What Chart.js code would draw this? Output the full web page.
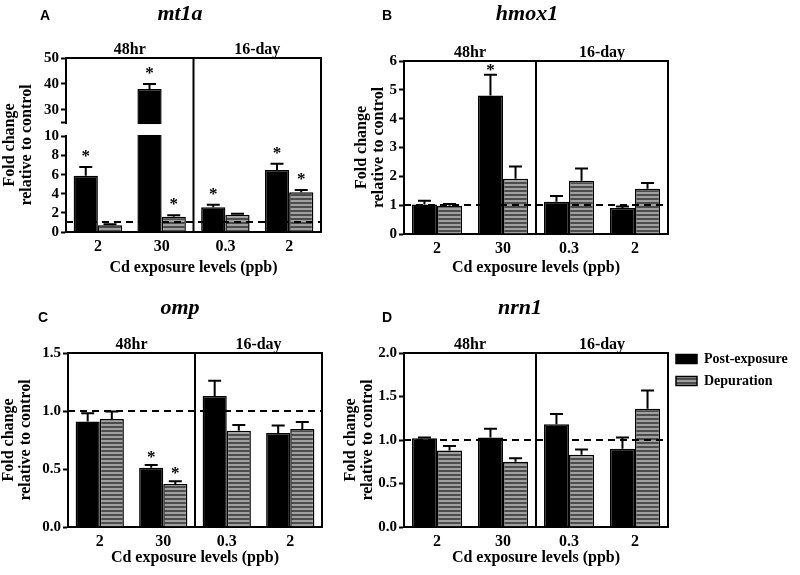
<!DOCTYPE html>
<html>
<head>
<meta charset="utf-8">
<script src="https://cdn.jsdelivr.net/npm/chart.js@4.4.1/dist/chart.umd.min.js"></script>
<style>
  html, body { margin: 0; padding: 0; overflow: hidden; background: #fff; }
  body { width: 800px; height: 575px; position: relative; }
  canvas { position: absolute; }
</style>
</head>
<body>
<canvas id="cA" width="400" height="280" style="left:0;top:0"></canvas>
<canvas id="cB" width="460" height="280" style="left:340px;top:0"></canvas>
<canvas id="cC" width="400" height="295" style="left:0;top:280px"></canvas>
<canvas id="cD" width="460" height="295" style="left:340px;top:280px"></canvas>
<script>
// ---- data ----
var categories = ['2', '30', '0.3', '2'];
var groups = ['48hr', '16-day'];
var seriesNames = ['Post-exposure', 'Depuration'];
var controlLevel = 1;

// A: mt1a (broken axis 10 -> 25)
var mt1aPost = [5.9, 38.0, 2.6, 6.5];
var mt1aPostErr = [0.9, 1.9, 0.25, 0.65];
var mt1aDep = [0.7, 1.6, 1.8, 4.15];
var mt1aDepErr = [0.1, 0.15, 0.1, 0.25];
var mt1aPostStar = [1, 1, 1, 1];
var mt1aDepStar = [0, 1, 0, 1];
var mt1aTicks = [0, 2, 4, 6, 8, 10, 25, 30, 40, 50];
var mt1aBreak = [10, 25];

// B: hmox1
var hmox1Post = [1.02, 4.8, 1.12, 0.9];
var hmox1PostErr = [0.13, 0.72, 0.2, 0.05];
var hmox1Dep = [0.98, 1.92, 1.85, 1.57];
var hmox1DepErr = [0.06, 0.42, 0.42, 0.2];
var hmox1PostStar = [0, 1, 0, 0];
var hmox1DepStar = [0, 0, 0, 0];

// C: omp
var ompPost = [0.91, 0.51, 1.13, 0.81];
var ompPostErr = [0.07, 0.025, 0.13, 0.065];
var ompDep = [0.93, 0.37, 0.83, 0.845];
var ompDepErr = [0.065, 0.025, 0.05, 0.06];
var ompPostStar = [0, 1, 0, 0];
var ompDepStar = [0, 1, 0, 0];

// D: nrn1
var nrn1Post = [1.02, 1.03, 1.18, 0.9];
var nrn1PostErr = [0.01, 0.1, 0.12, 0.13];
var nrn1Dep = [0.88, 0.75, 0.83, 1.36];
var nrn1DepErr = [0.05, 0.04, 0.06, 0.21];
var nrn1PostStar = [0, 0, 0, 0];
var nrn1DepStar = [0, 0, 0, 0];

Chart.defaults.font.family = '"Liberation Serif", "Times New Roman", serif';
Chart.defaults.color = '#000';

// linear scale with a gap between gap.low and gap.high
class BrokenScale extends Chart.LinearScale {
    static id = 'broken';
    static defaults = Chart.LinearScale.defaults;
    _frac(v) {
        var g = this.options.gap;
        if (v <= g.low) return (v - this.min) / (g.low - this.min) * g.lowFrac;
        if (v >= g.high) return g.highFrac + (v - g.high) / (this.max - g.high) * (1 - g.highFrac);
        return g.lowFrac + (v - g.low) / (g.high - g.low) * (g.highFrac - g.lowFrac);
    }
    getPixelForValue(v) {
        if (v === null) return NaN;
        return this.getPixelForDecimal(this._frac(v));
    }
    getValueForPixel(p) {
        var g = this.options.gap, d = this.getDecimalForPixel(p);
        if (d <= g.lowFrac) return this.min + d / g.lowFrac * (g.low - this.min);
        if (d >= g.highFrac) return g.high + (d - g.highFrac) / (1 - g.highFrac) * (this.max - g.high);
        return g.low + (d - g.lowFrac) / (g.highFrac - g.lowFrac) * (g.high - g.low);
    }
}
Chart.register(BrokenScale);

function stripes(ctx) {
    var c = document.createElement('canvas');
    c.width = 4; c.height = 4;
    var g = c.getContext('2d');
    g.fillStyle = '#a0a0a0'; g.fillRect(0, 0, 4, 2);
    g.fillStyle = '#4c4c4c'; g.fillRect(0, 2, 4, 2);
    return ctx.createPattern(c, 'repeat');
}

// frame, divider, dashed control line, error bars, asterisks, labels
var panelDecor = {
    id: 'panelDecor',
    afterDraw: function(chart, args, opts) {
        var ctx = chart.ctx, x = chart.scales.x, y = chart.scales.y;
        // plot box taken from the scales themselves
        var L = x.left, R = x.right, T = y.top, B = y.bottom;
        ctx.save();
        var gap = y.options.gap;
        if (gap) {
            var y1 = y.getPixelForValue(gap.high), y2 = y.getPixelForValue(gap.low);
            ctx.fillStyle = '#fff';
            ctx.fillRect(L - 3, y1 + 1.5, R - L + 3, y2 - y1 - 3);
        }
        ctx.strokeStyle = '#000';
        ctx.lineWidth = 2;
        ctx.setLineDash([7, 5]);
        var yc = Math.round(y.getPixelForValue(controlLevel));
        ctx.beginPath(); ctx.moveTo(L, yc); ctx.lineTo(R, yc); ctx.stroke();
        ctx.setLineDash([]);

        ctx.fillStyle = '#000';
        chart.data.datasets.forEach(function(ds, i) {
            chart.getDatasetMeta(i).data.forEach(function(bar, j) {
                var top = y.getPixelForValue(ds.data[j] + ds.errors[j]);
                ctx.beginPath();
                ctx.moveTo(bar.x, bar.y); ctx.lineTo(bar.x, top);
                ctx.moveTo(bar.x - 6.5, top); ctx.lineTo(bar.x + 6.5, top);
                ctx.stroke();
                if (ds.stars[j]) {
                    ctx.font = 'bold 17px "Liberation Serif"';
                    ctx.textAlign = 'center';
                    ctx.textBaseline = 'alphabetic';
                    ctx.fillText('*', bar.x, top - opts.starGap + 8);
                }
            });
        });

        var xd = x.getPixelForValue(1.5);
        ctx.strokeStyle = '#000';
        ctx.lineWidth = 2;
        ctx.beginPath();
        ctx.moveTo(L - 1, T); ctx.lineTo(R + 1, T);
        ctx.moveTo(R, T); ctx.lineTo(R, B + 1);
        ctx.moveTo(xd, T); ctx.lineTo(xd, B);
        ctx.stroke();

        ctx.textAlign = 'center';
        ctx.textBaseline = 'middle';
        ctx.font = 'bold 16px "Liberation Serif"';
        groups.forEach(function(g, k) {
            ctx.fillText(g, x.getPixelForValue(k * 2 + 0.5), T - 8);
        });
        ctx.font = 'italic bold 22px "Liberation Serif"';
        ctx.fillText(opts.gene, opts.geneX, opts.geneY);
        ctx.font = 'bold 14px "Liberation Sans"';
        ctx.fillText(opts.letter, opts.letterX, opts.letterY);
        ctx.restore();
    }
};

// lift the legend up to the top edge of the frame
var legendNudge = {
    id: 'legendNudge',
    afterLayout: function(chart, args, opts) {
        var lg = chart.legend;
        if (!lg || !lg.options.display) return;
        lg.top += opts.dy; lg.bottom += opts.dy;
    }
};

function makePanel(id, p) {
    var ctx = document.getElementById(id).getContext('2d');
    var yScale = {
        type: p.yType || 'linear',
        min: p.yMin, max: p.yMax,
        grid: { display: true, drawOnChartArea: false, drawTicks: true, tickLength: 5, tickWidth: 2, tickColor: '#000' },
        border: { display: true, color: '#000', width: 2 },
        ticks: { padding: 2, autoSkip: false, stepSize: p.step, font: { size: 15, weight: 'bold' }, callback: p.tickFmt },
        title: { display: true, text: ['Fold change', 'relative to control'], font: { size: 16, weight: 'bold', lineHeight: 1.05 }, padding: { top: p.ytPad, bottom: 0 } },
        afterFit: function(s) { s.width = p.yW; }
    };
    if (p.gap) {
        yScale.gap = p.gap;
        yScale.afterBuildTicks = function(s) { s.ticks = p.ticks.map(function(v) { return { value: v }; }); };
    }
    return new Chart(ctx, {
        type: 'bar',
        data: {
            labels: categories,
            datasets: [
                { label: seriesNames[0], data: p.post, errors: p.postErr, stars: p.postStar,
                  backgroundColor: '#000', borderColor: '#000', borderWidth: 1.5 },
                { label: seriesNames[1], data: p.dep, errors: p.depErr, stars: p.depStar,
                  backgroundColor: stripes(ctx), borderColor: '#000', borderWidth: 1.5 }
            ]
        },
        options: {
            responsive: false,
            animation: false,
            layout: { padding: { top: p.padTop, right: p.padRight, bottom: 0, left: 0 } },
            datasets: { bar: { categoryPercentage: 0.76, barPercentage: 1 } },
            scales: {
                x: {
                    grid: { display: false, drawTicks: false, tickLength: 0 },
                    border: { display: true, color: '#000', width: 2 },
                    ticks: { padding: 5, font: { size: 16, weight: 'bold' } },
                    title: { display: true, text: 'Cd exposure levels (ppb)', font: { size: 16, weight: 'bold' }, padding: { top: 0, bottom: p.xtPad } },
                    afterFit: function(s) { s.height = p.xH; }
                },
                y: yScale
            },
            plugins: {
                legend: p.legend ? {
                    display: true, position: 'right', align: 'start', fullSize: false, maxWidth: 200,
                    labels: { boxWidth: 21, boxHeight: 9, padding: 8, font: { size: 14, weight: 'bold' } }
                } : { display: false },
                tooltip: { enabled: false },
                legendNudge: { dy: -9 },
                panelDecor: { letter: p.letter, letterX: p.letterX, letterY: p.letterY, gene: p.gene, geneX: p.geneX, geneY: p.geneY, starGap: p.starGap }
            }
        },
        plugins: [panelDecor, legendNudge]
    });
}

var oneDecimal = function(v) { return v.toFixed(1); };

makePanel('cA', {
    post: mt1aPost, postErr: mt1aPostErr, dep: mt1aDep, depErr: mt1aDepErr, postStar: mt1aPostStar, depStar: mt1aDepStar,
    yType: 'broken', yMin: 0, yMax: 50, ticks: mt1aTicks,
    gap: { low: mt1aBreak[0], high: mt1aBreak[1], lowFrac: 0.549, highFrac: 0.629 },
    tickFmt: function(v) { return v === mt1aBreak[1] ? '' : v; },
    padTop: 58, padRight: 79, yW: 66, xH: 48, xtPad: 2.4, ytPad: 1.6,
    letter: 'A', letterX: 45, letterY: 16, gene: 'mt1a', geneX: 180, geneY: 14, starGap: 14
});
makePanel('cB', {
    post: hmox1Post, postErr: hmox1PostErr, dep: hmox1Dep, depErr: hmox1DepErr, postStar: hmox1PostStar, depStar: hmox1DepStar,
    yMin: 0, yMax: 6, step: 1,
    padTop: 61, padRight: 132, yW: 64, xH: 46, xtPad: 2.4, ytPad: 13.6,
    letter: 'B', letterX: 47, letterY: 16, gene: 'hmox1', geneX: 187, geneY: 14, starGap: 8
});
makePanel('cC', {
    post: ompPost, postErr: ompPostErr, dep: ompDep, depErr: ompDepErr, postStar: ompPostStar, depStar: ompDepStar,
    yMin: 0, yMax: 1.5, step: 0.5, tickFmt: oneDecimal,
    padTop: 73, padRight: 78, yW: 68, xH: 48, xtPad: 7.4, ytPad: 0.6,
    letter: 'C', letterX: 43, letterY: 38, gene: 'omp', geneX: 180, geneY: 28, starGap: 11
});
var chartD = makePanel('cD', {
    post: nrn1Post, postErr: nrn1PostErr, dep: nrn1Dep, depErr: nrn1DepErr, postStar: nrn1PostStar, depStar: nrn1DepStar,
    yMin: 0, yMax: 2, step: 0.5, tickFmt: oneDecimal,
    padTop: 73, padRight: 0, yW: 64, xH: 48, xtPad: 7.4, ytPad: 2.6, legend: true,
    letter: 'D', letterX: 47, letterY: 38, gene: 'nrn1', geneX: 180, geneY: 28, starGap: 10
});
// keep D's plot box the same width as B's, legend to its right
chartD.options.layout.padding.right = Math.max(0, 460 - 328 - chartD.legend.width);
chartD.update();
</script>
</body>
</html>
